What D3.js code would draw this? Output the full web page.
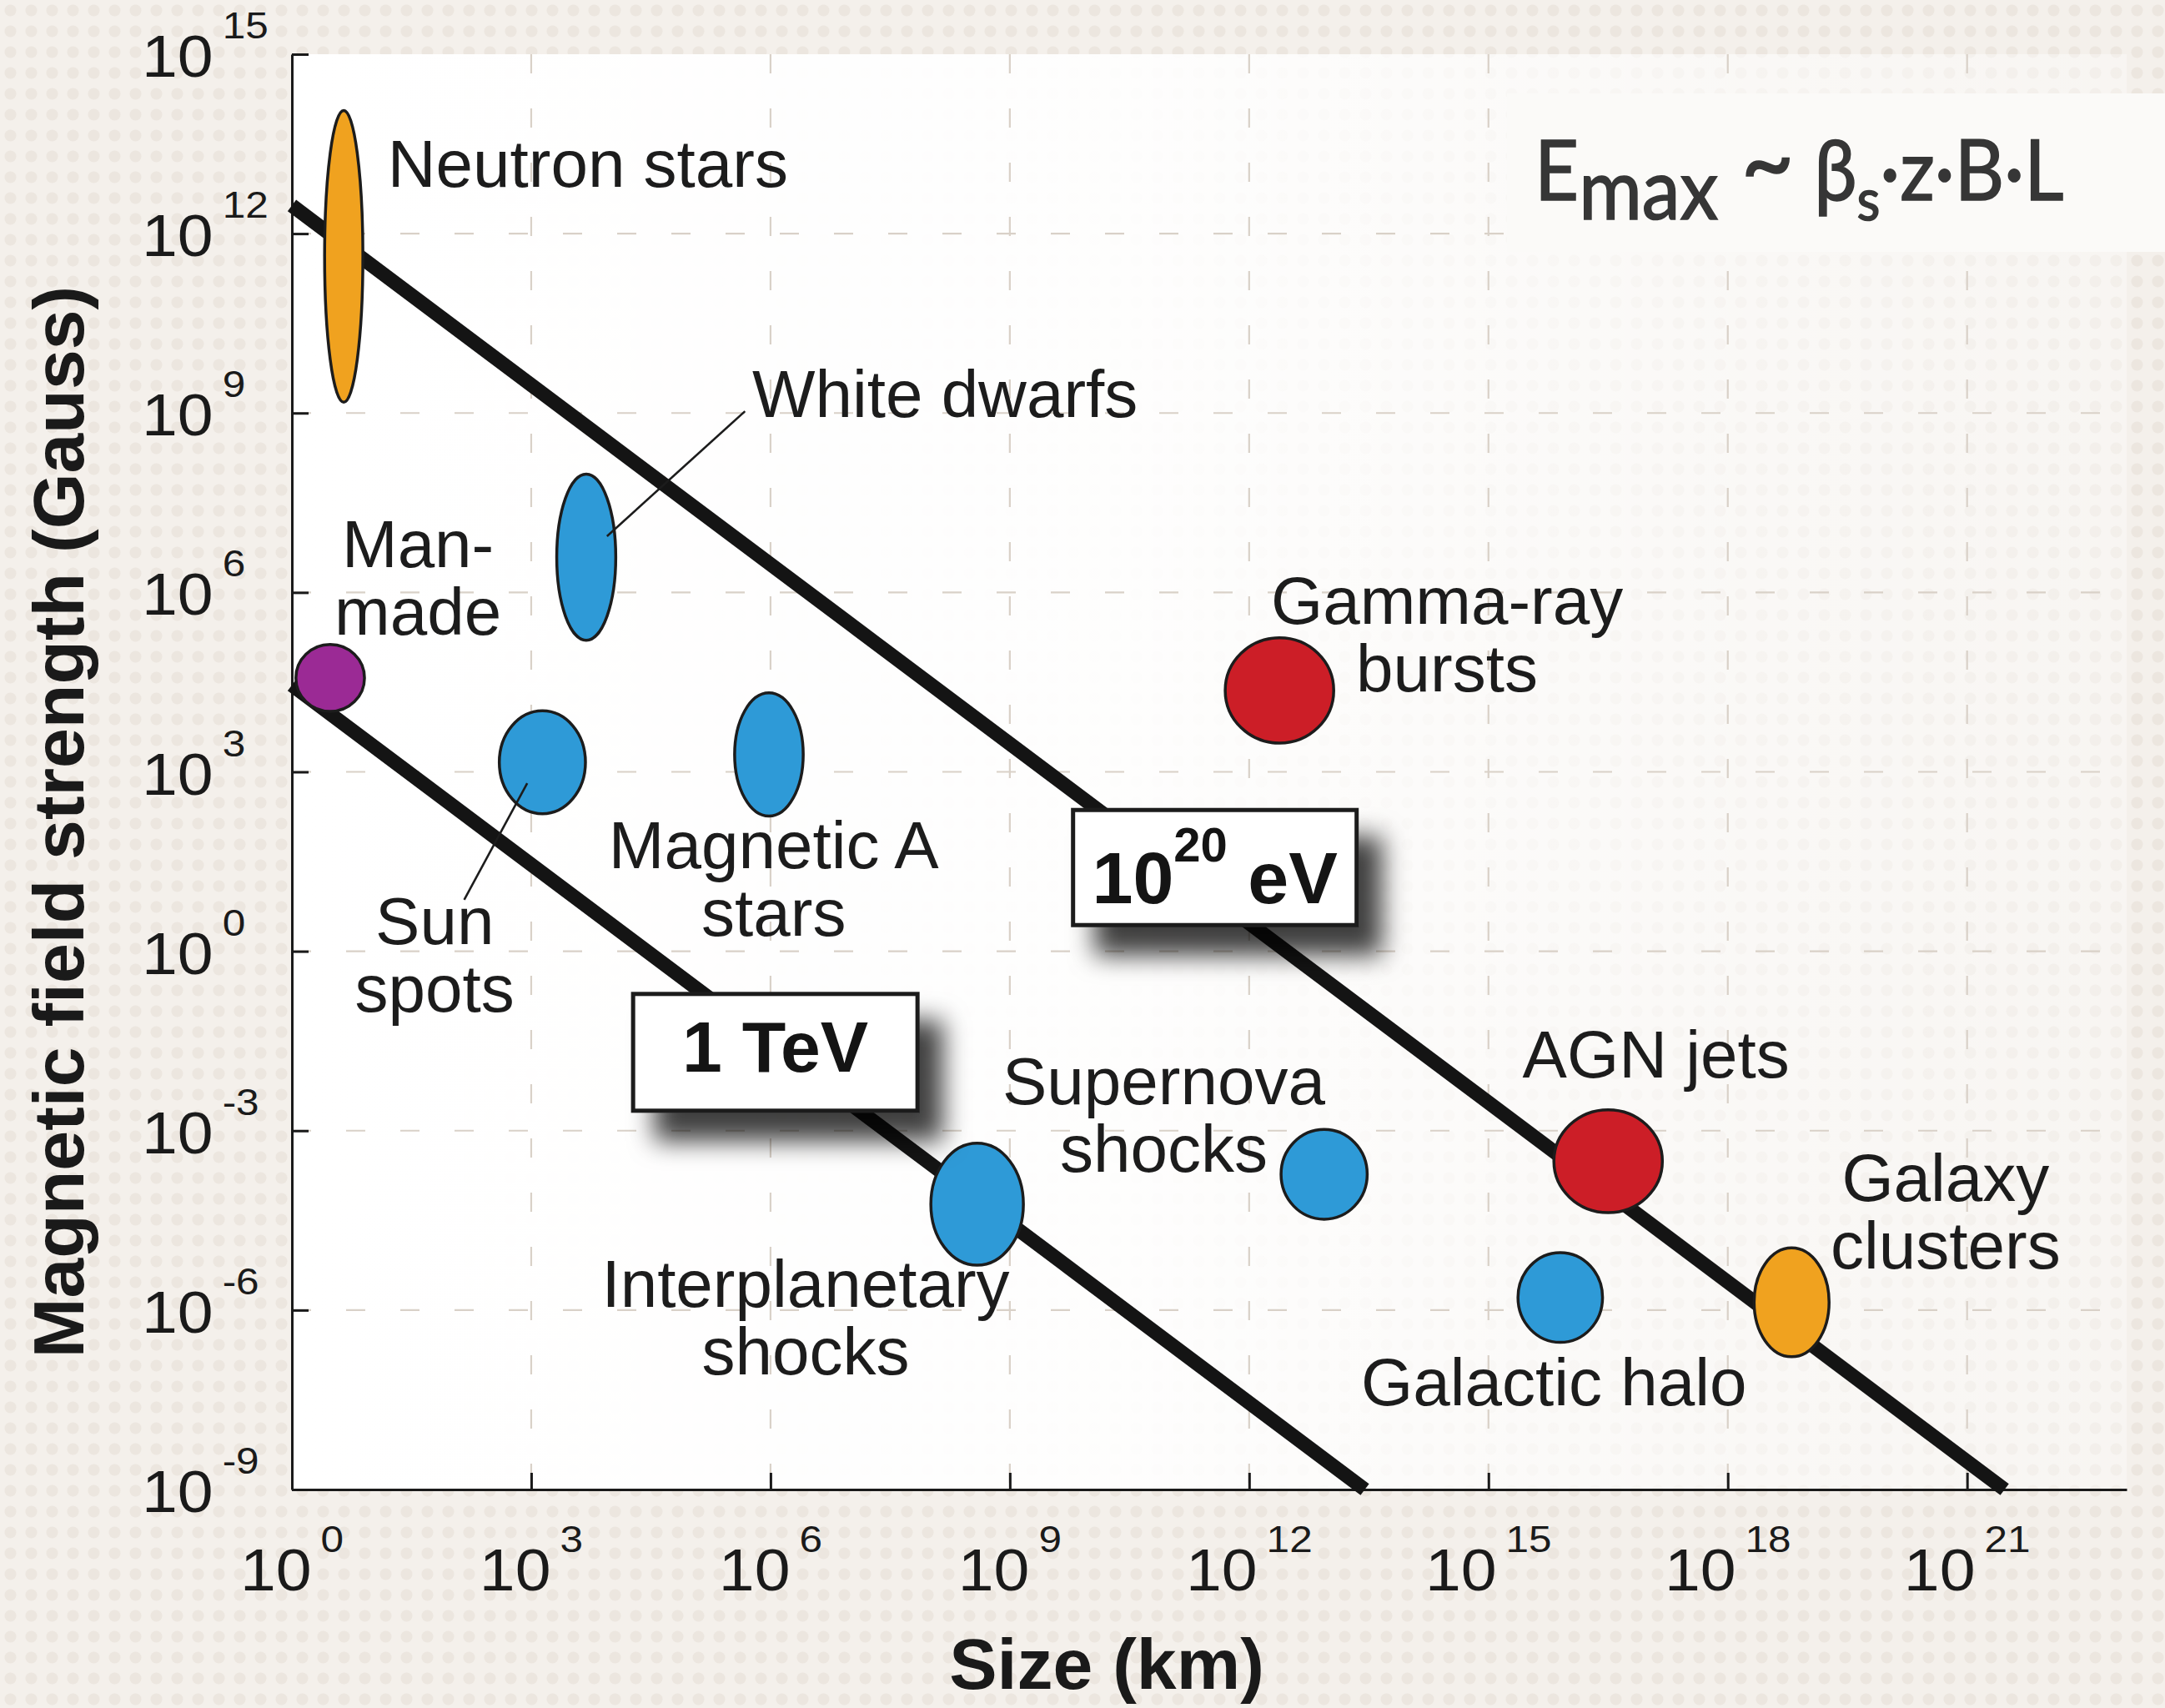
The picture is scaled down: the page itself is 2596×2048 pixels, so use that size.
<!DOCTYPE html>
<html>
<head>
<meta charset="utf-8">
<script src="https://cdn.jsdelivr.net/npm/d3@7"></script>
<style>
  html, body { margin: 0; padding: 0; background: #f3efea; }
  svg { display: block; }
</style>
</head>
<body>
<svg id="chart" width="2596" height="2048"></svg>
<script>
// ---- Data (log10 units: size in km, field in gauss) ----
const sourceNames  = ["Neutron stars", "White dwarfs", "Man-made", "Sun spots", "Magnetic A stars",
                      "Gamma-ray bursts", "Interplanetary shocks", "Supernova shocks", "AGN jets",
                      "Galactic halo", "Galaxy clusters"];
const sizeLog      = [0.65, 3.69, 0.48, 3.14, 5.98, 12.38, 8.59, 12.94, 16.50, 15.90, 18.80];
const fieldLog     = [11.62, 6.59, 4.57, 3.16, 3.29, 4.36, -4.23, -3.73, -3.51, -5.79, -5.87];
const sizeHalf     = [0.24, 0.37, 0.43, 0.54, 0.43, 0.68, 0.58, 0.54, 0.68, 0.53, 0.47];
const fieldHalf    = [2.44, 1.39, 0.56, 0.86, 1.03, 0.88, 1.02, 0.75, 0.86, 0.75, 0.91];
const sourceGroup  = ["orange", "blue", "purple", "blue", "blue", "red", "blue", "blue", "red", "blue", "orange"];

// Hillas limit lines: [log10 size, log10 field] end points
const energyNames  = ["1 TeV", "10^20 eV"];
const energyLines  = [
  [[0, 4.45], [13.45, -9]],
  [[0, 12.47], [21.47, -9]]
];

const xTickExps = [0, 3, 6, 9, 12, 15, 18, 21];
const yTickExps = [15, 12, 9, 6, 3, 0, -3, -6, -9];

// ---- Layout ----
const W = 2596, H = 2048;
const margin = { top: 65, right: 46, bottom: 262, left: 350 };
const FONT = "'Liberation Sans', Arial, Helvetica, sans-serif";
const palette = { blue: "#2e9ad7", orange: "#f0a21f", red: "#cc1e27", purple: "#9b2a95" };

const x = d3.scaleLog().domain([1, 1e23]).range([margin.left, W - margin.right]);
const y = d3.scaleLog().domain([1e-9, 1e15]).range([H - margin.bottom, margin.top]);
const px = e => x(Math.pow(10, e));
const py = e => y(Math.pow(10, e));

const svg = d3.select("#chart");
const defs = svg.append("defs");

// paper texture
const pat = defs.append("pattern").attr("id", "dots")
  .attr("width", 25).attr("height", 25).attr("patternUnits", "userSpaceOnUse");
pat.append("rect").attr("width", 25).attr("height", 25).attr("fill", "#f4f0eb");
pat.append("circle").attr("cx", 12.5).attr("cy", 12.5).attr("r", 7).attr("fill", "#ece6df");

const grad = defs.append("linearGradient").attr("id", "plotFill")
  .attr("x1", "0").attr("x2", "1").attr("y1", "0").attr("y2", "0");
grad.append("stop").attr("offset", "0").attr("stop-color", "#ffffff").attr("stop-opacity", 1);
grad.append("stop").attr("offset", "0.45").attr("stop-color", "#ffffff").attr("stop-opacity", 0.92);
grad.append("stop").attr("offset", "1").attr("stop-color", "#ffffff").attr("stop-opacity", 0.35);

const shadow = defs.append("filter").attr("id", "boxShadow")
  .attr("x", "-20%").attr("y", "-30%").attr("width", "170%").attr("height", "200%");
shadow.append("feDropShadow").attr("dx", 28).attr("dy", 34).attr("stdDeviation", 15)
  .attr("flood-color", "#000").attr("flood-opacity", 0.75);

svg.append("rect").attr("width", W).attr("height", H).attr("fill", "url(#dots)");

const x0 = px(0), x1 = px(23), yTop = py(15), yBot = py(-9);
svg.append("rect").attr("x", x0).attr("y", yTop)
  .attr("width", x1 - x0).attr("height", yBot - yTop).attr("fill", "url(#plotFill)");

// ---- Grid ----
const grid = svg.append("g").attr("stroke", "#d9d1c8").attr("stroke-width", 2.2)
  .attr("stroke-dasharray", "23,42");
grid.selectAll("line.v").data(xTickExps.filter(e => e > 0)).join("line")
  .attr("x1", d => px(d)).attr("x2", d => px(d)).attr("y1", yTop).attr("y2", yBot);
grid.selectAll("line.h").data(yTickExps.filter(e => e < 15 && e > -9)).join("line")
  .attr("y1", d => py(d)).attr("y2", d => py(d)).attr("x1", x0).attr("x2", x1);

// ---- Formula panel ----
svg.append("rect").attr("x", 1807).attr("y", 112).attr("width", W - 1807).attr("height", 190)
  .attr("fill", "#fbfaf8");
const formula = svg.append("g").attr("transform", "translate(1840,240) scale(0.92,1)")
  .append("text").attr("font-family", "Lato, 'Open Sans', sans-serif").attr("font-size", 100)
  .attr("fill", "#363636").attr("stroke", "#363636").attr("stroke-width", 1.6);
formula.append("tspan").text("E");
formula.append("tspan").attr("dy", 23).text("max");
formula.append("tspan").attr("dy", -23).attr("dx", 4).text(" ");
formula.append("tspan").attr("font-size", 120).attr("dy", -4).text("~");
formula.append("tspan").attr("dy", 4).text(" β");
formula.append("tspan").attr("dy", 24).attr("font-size", 70).text("s");
formula.append("tspan").attr("dy", -24).text("·z·B·L");

// ---- Axes ----
const xAxis = d3.axisBottom(x).tickValues(xTickExps.map(e => Math.pow(10, e)))
  .tickSize(-20).tickSizeOuter(0).tickFormat(() => "");
const yAxis = d3.axisLeft(y).tickValues(yTickExps.map(e => Math.pow(10, e)))
  .tickSize(-20).tickSizeOuter(0).tickFormat(() => "");

const gx = svg.append("g").attr("transform", `translate(0,${yBot})`).call(xAxis);
const gy = svg.append("g").attr("transform", `translate(${x0},0)`).call(yAxis);
[gx, gy].forEach(g => {
  g.select(".domain").attr("stroke", "#1a1a1a").attr("stroke-width", 3);
  g.selectAll(".tick line").attr("stroke", "#1a1a1a").attr("stroke-width", 3);
});

// powers of ten drawn slightly widened, like the original lettering
function powerLabel(g, exp, anchor) {
  const t = g.append("text").attr("font-family", FONT).attr("fill", "#1a1a1a")
    .attr("text-anchor", anchor);
  t.append("tspan").attr("font-size", 70).text("10");
  t.append("tspan").attr("font-size", 45).attr("dx", 10).attr("dy", -46).text(exp);
}
xTickExps.forEach(e => {
  svg.append("g").attr("transform", `translate(${px(e)},${yBot + 121}) scale(1.1,1)`)
    .call(powerLabel, e, "middle");
});
yTickExps.forEach(e => {
  svg.append("g").attr("transform", `translate(170,${py(e) + 27}) scale(1.1,1)`)
    .call(powerLabel, e, "start");
});

svg.append("text").attr("transform", `translate(100,${(yTop + yBot) / 2 + 60}) rotate(-90)`)
  .attr("text-anchor", "middle").attr("font-family", FONT).attr("font-weight", "bold")
  .attr("font-size", 86).attr("fill", "#1a1a1a").text("Magnetic field strength (Gauss)");
svg.append("text").attr("x", 1327).attr("y", 2025)
  .attr("text-anchor", "middle").attr("font-family", FONT).attr("font-weight", "bold")
  .attr("font-size", 86).attr("fill", "#1a1a1a").text("Size (km)");

// ---- Hillas lines ----
const line = d3.line().x(d => px(d[0])).y(d => py(d[1]));
svg.append("g").selectAll("path").data(energyLines).join("path")
  .attr("d", line).attr("fill", "none").attr("stroke", "#141414")
  .attr("stroke-width", 17).attr("stroke-linecap", "butt");

// ---- Leader lines ----
const leaders = [
  [[3.95, 6.94], [5.68, 9.03]],   // white dwarfs
  [[2.95, 2.81], [2.16, 0.86]]    // sun spots
];

// ---- Source regions ----
const sources = sourceNames.map((n, i) => ({
  name: n, cx: sizeLog[i], cy: fieldLog[i], dx: sizeHalf[i], dy: fieldHalf[i], group: sourceGroup[i]
}));
svg.append("g").selectAll("ellipse").data(sources).join("ellipse")
  .attr("cx", d => px(d.cx)).attr("cy", d => py(d.cy))
  .attr("rx", d => px(d.cx + d.dx) - px(d.cx))
  .attr("ry", d => py(d.cy - d.dy) - py(d.cy))
  .attr("fill", d => palette[d.group])
  .attr("stroke", "#1c1c1c").attr("stroke-width", 3.5);

svg.append("g").selectAll("path").data(leaders).join("path")
  .attr("d", line).attr("fill", "none").attr("stroke", "#1c1c1c").attr("stroke-width", 2.6);

// ---- Source labels (anchor in log units) ----
const labels = [
  { lines: ["Neutron stars"], at: [1.20, 12.78], anchor: "start" },
  { lines: ["White dwarfs"], at: [5.77, 8.93], anchor: "start" },
  { lines: ["Man-", "made"], at: [1.58, 6.42], anchor: "middle" },
  { lines: ["Sun", "spots"], at: [1.79, 0.12], anchor: "middle" },
  { lines: ["Magnetic A", "stars"], at: [6.04, 1.39], anchor: "middle" },
  { lines: ["Gamma-ray", "bursts"], at: [14.48, 5.47], anchor: "middle" },
  { lines: ["Supernova", "shocks"], at: [10.93, -2.56], anchor: "middle" },
  { lines: ["Interplanetary", "shocks"], at: [6.44, -5.95], anchor: "middle" },
  { lines: ["AGN jets"], at: [17.10, -2.11], anchor: "middle" },
  { lines: ["Galaxy", "clusters"], at: [20.73, -4.17], anchor: "middle" },
  { lines: ["Galactic halo"], at: [15.82, -7.59], anchor: "middle" }
];
labels.forEach(l => {
  const t = svg.append("text").attr("font-family", FONT).attr("font-size", 80)
    .attr("fill", "#1c1c1c").attr("text-anchor", l.anchor);
  l.lines.forEach((s, i) => {
    t.append("tspan").attr("x", px(l.at[0])).attr("y", py(l.at[1]) + i * 81).text(s);
  });
});

// ---- Energy boxes ----
const boxes = [
  { name: energyNames[0], at: [6.06, -1.69], w: 341, h: 140, base: 23, size: 86 },
  { name: energyNames[1], at: [11.57, 1.40], w: 340, h: 138, base: 43, size: 88 }
];
boxes.forEach(b => {
  const cx = px(b.at[0]), cy = py(b.at[1]);
  svg.append("rect").attr("x", cx - b.w / 2).attr("y", cy - b.h / 2)
    .attr("width", b.w).attr("height", b.h).attr("fill", "#fff")
    .attr("stroke", "#1a1a1a").attr("stroke-width", 5).attr("filter", "url(#boxShadow)");
  const t = svg.append("text").attr("x", cx).attr("y", cy + b.base).attr("text-anchor", "middle")
    .attr("font-family", FONT).attr("font-weight", "bold").attr("font-size", b.size).attr("fill", "#141414");
  const m = b.name.match(/^10\^(\d+) (.*)$/);
  if (m) {
    t.append("tspan").text("10");
    t.append("tspan").attr("font-size", 58).attr("dy", -50).text(m[1]);
    t.append("tspan").attr("dy", 50).text(" " + m[2]);
  } else {
    t.text(b.name);
  }
});
</script>
</body>
</html>
